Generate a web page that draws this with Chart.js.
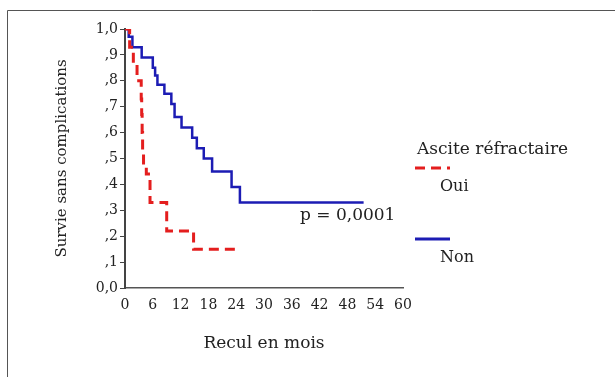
<!DOCTYPE html>
<html lang="fr">
<head>
<meta charset="utf-8">
<script src="https://cdn.jsdelivr.net/npm/chart.js@4"></script>
<style>
  html, body { margin: 0; padding: 0; background: #fff; }
  canvas { display: block; }
</style>
</head>
<body>
<canvas id="kmChart" width="615" height="377"></canvas>
<script>
// Courbes de Kaplan-Meier : survie sans complications selon l'ascite réfractaire
const ouiTimes  = [0, 1.0, 1.8, 2.6, 3.5, 3.6, 3.7, 3.8, 4.0, 4.6, 5.4, 9.0, 14.8, 25];
const ouiSurvie = [1.0, 0.93, 0.87, 0.80, 0.73, 0.67, 0.60, 0.53, 0.47, 0.44, 0.33, 0.22, 0.15, 0.15];

const nonTimes  = [0, 0.8, 1.6, 3.6, 6.0, 6.5, 7.0, 8.5, 10.0, 10.7, 12.2, 14.5, 15.5, 17.0, 18.8, 23.0, 24.8, 51.5];
const nonSurvie = [1.0, 0.97, 0.93, 0.89, 0.85, 0.82, 0.785, 0.75, 0.71, 0.66, 0.62, 0.58, 0.54, 0.50, 0.45, 0.39, 0.33, 0.33];

const yTickLabels = ['0,0', ',1', ',2', ',3', ',4', ',5', ',6', ',7', ',8', ',9', '1,0'];
const xTickLabels = ['0', '6', '12', '18', '24', '30', '36', '42', '48', '54', '60'];

const legendTitle = 'Ascite réfractaire';
const groupLabels = ['Oui', 'Non'];
const pValueText  = 'p = 0,0001';

const SERIF = '"DejaVu Serif", "Liberation Serif", serif';
const TEXT  = '#222';

const toPoints = (times, vals) => times.map((t, i) => ({ x: t, y: vals[i] }));

// Legend, p-value and frame drawn by hand (the original layout is unusual)
const extras = {
  id: 'extras',
  afterDraw(chart) {
    const ctx = chart.ctx;
    const ds  = chart.data.datasets;
    ctx.save();

    // frame (top + left only, like the scan)
    ctx.strokeStyle = '#555';
    ctx.lineWidth = 1;
    ctx.beginPath();
    ctx.moveTo(7.5, 377);
    ctx.lineTo(7.5, 10.5);
    ctx.lineTo(615, 10.5);
    ctx.stroke();

    ctx.fillStyle = TEXT;
    ctx.textBaseline = 'middle';
    ctx.textAlign = 'left';
    ctx.font = '17px ' + SERIF;
    ctx.fillText(legendTitle, 417, 150);

    ctx.font = '16px ' + SERIF;
    const rows = [{ lineY: 168, textY: 187 }, { lineY: 239, textY: 258 }];
    rows.forEach((r, i) => {
      ctx.beginPath();
      ctx.strokeStyle = ds[i].borderColor;
      ctx.lineWidth = 3;
      ctx.setLineDash(ds[i].borderDash || []);
      ctx.moveTo(415, r.lineY);
      ctx.lineTo(450, r.lineY);
      ctx.stroke();
      ctx.setLineDash([]);
      ctx.fillText(groupLabels[i], 440, r.textY);
    });

    ctx.font = '17px ' + SERIF;
    ctx.fillText(pValueText, 300, 216);
    ctx.restore();
  },
};

const ctx = document.getElementById('kmChart').getContext('2d');

new Chart(ctx, {
  type: 'scatter',
  data: {
    datasets: [
      {
        label: groupLabels[0],
        data: toPoints(ouiTimes, ouiSurvie),
        showLine: true,
        stepped: true,
        borderColor: '#e41e1e',
        borderWidth: 3,
        borderDash: [10, 6],
        pointRadius: 0,
      },
      {
        label: groupLabels[1],
        data: toPoints(nonTimes, nonSurvie),
        showLine: true,
        stepped: true,
        borderColor: '#1c1cb4',
        borderWidth: 2.5,
        pointRadius: 0,
      },
    ],
  },
  options: {
    responsive: false,
    animation: false,
    devicePixelRatio: 1,
    layout: { padding: { left: 53, right: 212, top: 29, bottom: 23 } },
    plugins: { legend: { display: false }, tooltip: { enabled: false } },
    scales: {
      x: {
        type: 'linear',
        min: 0,
        max: 60,
        afterFit: s => { s.height = 66; },
        grid: { display: true, drawOnChartArea: false, drawTicks: false },
        border: { color: '#555', width: 1.5 },
        ticks: {
          stepSize: 6,
          padding: 9,
          color: TEXT,
          font: { family: SERIF, size: 14 },
          callback: (v, i) => xTickLabels[i],
        },
        title: {
          display: true,
          text: 'Recul en mois',
          color: TEXT,
          padding: 0,
          font: { family: SERIF, size: 17 },
        },
      },
      y: {
        min: 0,
        max: 1,
        afterFit: s => { s.width = 72; },
        grid: { drawOnChartArea: false, drawTicks: true, tickLength: 5, color: '#444' },
        border: { color: '#444', width: 2 },
        ticks: {
          stepSize: 0.1,
          padding: 2,
          color: TEXT,
          font: { family: SERIF, size: 14 },
          callback: (v, i) => yTickLabels[i],
        },
        title: {
          display: true,
          text: 'Survie sans complications',
          color: TEXT,
          padding: 0,
          font: { family: SERIF, size: 15 },
        },
      },
    },
  },
  plugins: [extras],
});
</script>
</body>
</html>
